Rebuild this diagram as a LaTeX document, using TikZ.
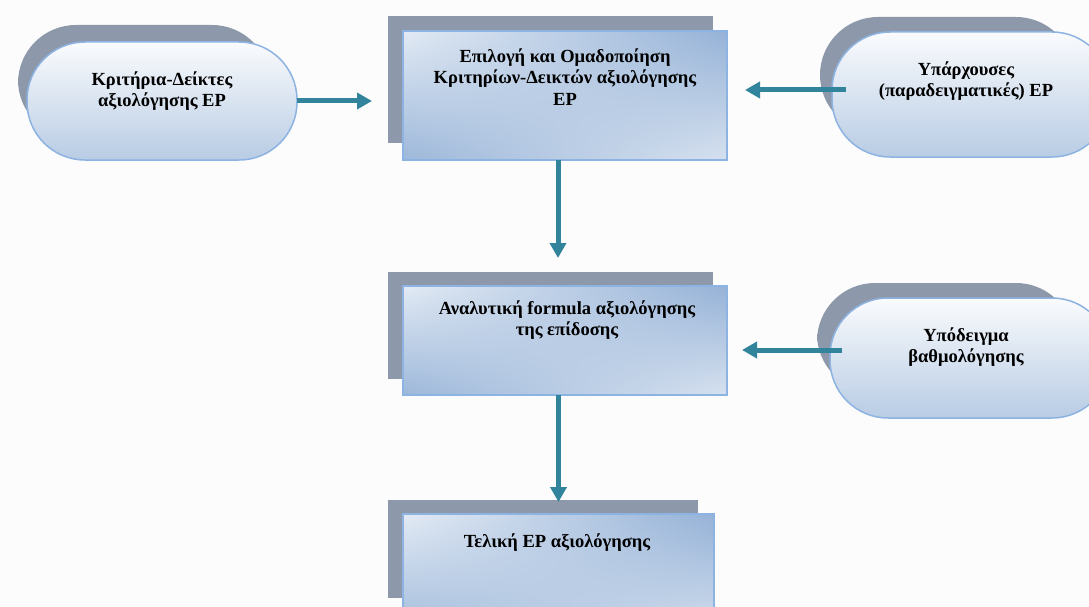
\documentclass[tikz,border=0pt]{standalone}
\usepackage{fontspec}
\setmainfont{Liberation Serif}
\usetikzlibrary{arrows.meta,shadings}
\definecolor{shadowgray}{HTML}{8D99AA}
\definecolor{edgeblue}{HTML}{8DB3E2}
\definecolor{arrowteal}{HTML}{31849B}
\definecolor{pilltop}{HTML}{FAFBFD}
\definecolor{pillmid}{HTML}{E4ECF5}
\definecolor{pillbot}{HTML}{B8CCE4}
\definecolor{boxlight}{HTML}{E2EAF4}
\definecolor{boxdarkA}{HTML}{95B2D7}
\definecolor{boxdarkB}{HTML}{9DB8DA}
\definecolor{boxmid}{HTML}{D6E1EF}
\definecolor{paper}{HTML}{FCFCFC}
\begin{document}
\begin{tikzpicture}[x=1pt,y=-1pt,
  shadowfill/.style={fill=shadowgray},
  pillshade/.style={top color=pilltop,middle color=pillmid,bottom color=pillbot,draw=edgeblue,line width=1.5pt,rounded corners=58pt},
  boxshade/.style={upper left=boxlight,upper right=boxdarkA,lower left=boxdarkB,lower right=boxmid,draw=edgeblue,line width=1.5pt},
  area/.style={inner sep=0pt,outer sep=0pt},
  caption/.style={font=\bfseries\fontsize{18.5}{21.5}\selectfont,align=center,text=black},
  flow/.style={draw=arrowteal,line width=5pt,-{Triangle[width=16pt,length=15pt]}}]
\useasboundingbox (0,0) rectangle (1089,607);
\fill[paper] (0,0) rectangle (1089,607);

% --- left pill: criteria
\fill[shadowfill,rounded corners=58pt] (18,25) rectangle (270,138);
\shade[pillshade] (27,42) rectangle (297,160);
\node[area,minimum width=270pt,minimum height=118pt] (crit) at (162,101) {};
\node[caption] (critT) at (162,91) {Κριτήρια-Δείκτες\\αξιολόγησης ΕΡ};

% --- selection box
\fill[shadowfill] (388,16) rectangle (713,143);
\shade[boxshade] (403,31) rectangle (727,160);
\node[area,minimum width=324pt,minimum height=129pt] (sel) at (565,95.5) {};
\node[caption] (selT) at (565,77) {Επιλογή και Ομαδοποίηση\\Κριτηρίων-Δεικτών αξιολόγησης\\ΕΡ};

% --- right pill: existing
\fill[shadowfill,rounded corners=58pt] (820,17) rectangle (1074,133);
\shade[pillshade] (832,32) rectangle (1110,157);
\node[area,minimum width=278pt,minimum height=125pt] (exist) at (971,94.5) {};
\node[caption] (existT) at (966,81) {Υπάρχουσες\\(παραδειγματικές) ΕΡ};

% --- analytic formula box
\fill[shadowfill] (388,272) rectangle (713,379);
\shade[boxshade] (403,286) rectangle (727,395);
\node[area,minimum width=324pt,minimum height=109pt] (ana) at (565,340.5) {};
\node[caption] (anaT) at (567,320) {Αναλυτική formula αξιολόγησης\\της επίδοσης};

% --- right pill: scoring model
\fill[shadowfill,rounded corners=58pt] (817,283) rectangle (1074,392);
\shade[pillshade] (830,298) rectangle (1110,418);
\node[area,minimum width=280pt,minimum height=120pt] (score) at (970,358) {};
\node[caption] (scoreT) at (966,347) {Υπόδειγμα\\βαθμολόγησης};

% --- final box
\fill[shadowfill] (388,500) rectangle (698,598);
\shade[boxshade] (403,514) rectangle (714,640);
\node[area,minimum width=311pt,minimum height=126pt] (fin) at (558.5,577) {};
\node[caption] (finT) at (557,543) {Τελική ΕΡ αξιολόγησης};

% --- connectors
\draw[flow,shorten >=31pt] (crit.east) -- (crit.east -| sel.west);
\draw[flow,shorten <=-14pt,shorten >=18pt] ([yshift=4.5pt]exist.west) -- ([yshift=4.5pt]exist.west -| sel.east);
\draw[flow,shorten <=-12pt,shorten >=15pt] ([yshift=8pt]score.west) -- ([yshift=8pt]score.west -| ana.east);
\draw[flow,shorten >=28pt] ([xshift=-7pt]sel.south) -- ([xshift=-7pt]ana.north);
\draw[flow,shorten >=12pt] (ana.south -| fin.north) -- (fin.north);
\end{tikzpicture}
\end{document}
